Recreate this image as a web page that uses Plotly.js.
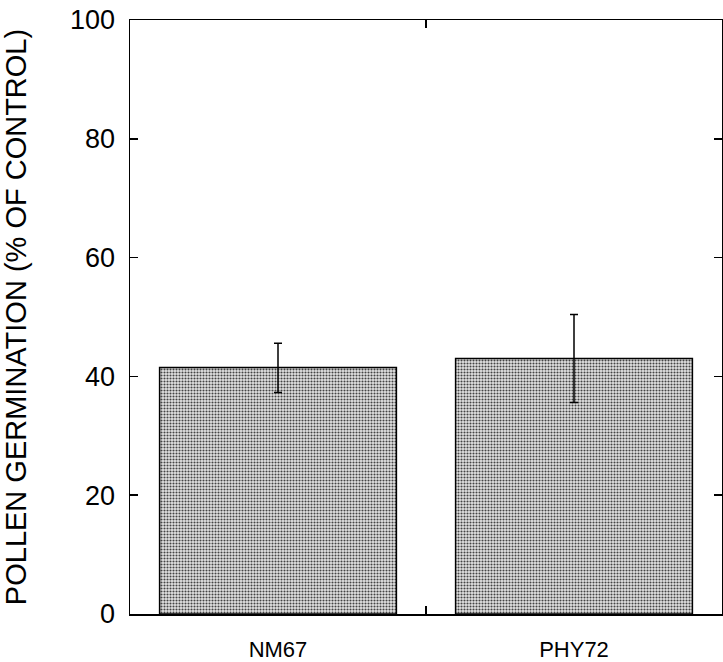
<!DOCTYPE html>
<html>
<head>
<meta charset="utf-8">
<script src="https://cdn.plot.ly/plotly-3.0.1.min.js"></script>
<style>html,body{margin:0;padding:0;background:#fff;}#chart{width:723px;height:662px;}</style>
</head>
<body>
<div id="chart"></div>
<script>
const categories = ['NM67', 'PHY72'];
const germination = [41.5, 43.0];
const errorPlus = [4.1, 7.4];
const errorMinus = [4.2, 7.4];
const yTicks = [0, 20, 40, 60, 80, 100];

const trace = {
  type: 'bar',
  x: categories,
  y: germination,
  error_y: {type: 'data', symmetric: false, array: errorPlus, arrayminus: errorMinus,
            color: '#000', thickness: 1.5, width: 4},
  marker: {
    color: '#e4e4e4',
    line: {color: '#000', width: 1.5},
    pattern: {shape: '.', fgcolor: '#444', bgcolor: '#e4e4e4', size: 3, solidity: 0.4}
  },
  hoverinfo: 'none'
};

const layout = {
  width: 723, height: 662,
  margin: {l: 130, r: 1, t: 20, b: 48},
  paper_bgcolor: '#fff', plot_bgcolor: '#fff',
  showlegend: false,
  bargap: 0.2,
  font: {family: 'Liberation Sans, Arial, sans-serif', color: '#000'},
  xaxis: {
    type: 'category',
    range: [-0.5, 1.5],
    showline: true, linecolor: '#000', linewidth: 1.5, mirror: 'ticks',
    ticks: 'inside', tickson: 'boundaries', ticklen: 8, tickwidth: 1.5, tickcolor: '#000',
    showgrid: false, zeroline: false,
    tickfont: {size: 22},
    ticklabelstandoff: 15
  },
  yaxis: {
    range: [0, 100],
    tickvals: yTicks,
    showline: true, linecolor: '#000', linewidth: 1.5, mirror: 'ticks',
    ticks: 'inside', ticklen: 8, tickwidth: 1.5, tickcolor: '#000',
    showgrid: false, zeroline: false,
    tickfont: {size: 27},
    ticklabelstandoff: 8,
    title: {text: 'POLLEN GERMINATION (% OF CONTROL)', font: {size: 29}, standoff: 36}
  }
};

Plotly.newPlot('chart', [trace], layout, {displayModeBar: false, staticPlot: true});
</script>
</body>
</html>
